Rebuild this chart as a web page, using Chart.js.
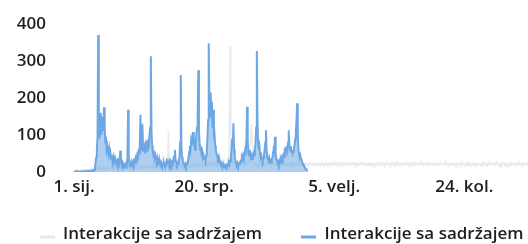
<!DOCTYPE html>
<html>
<head>
<meta charset="utf-8">
<script src="https://cdn.jsdelivr.net/npm/chart.js@4/dist/chart.umd.min.js"></script>
<style>
  html, body { margin: 0; padding: 0; background: #ffffff; }
  #wrap { width: 528px; height: 244px; position: relative; }
</style>
</head>
<body>
<div id="wrap"><canvas id="c" width="528" height="244"></canvas></div>
<script>
// ---- data ----
const seriesName = 'Interakcije sa sadržajem';
const tickDays = [0, 200, 400, 600];
const tickLabels = ['1. sij.', '20. srp.', '5. velj.', '24. kol.'];
const yTicks = [0, 100, 200, 300, 400];

const blueValues = [
  1,0,2,1,0,1,2,1,0,1,
  1,2,0,1,2,1,1,0,2,1,
  1,2,1,3,2,1,2,3,2,4,
  3,5,12,25,40,60,95,370,140,90,
  120,160,100,130,150,110,175,120,80,95,
  60,70,55,45,60,40,50,35,45,30,
  40,28,35,25,30,22,28,20,30,25,
  35,58,30,20,25,15,20,12,18,15,
  22,18,40,168,45,20,15,22,18,25,
  20,28,22,30,25,35,30,45,40,55,
  50,75,155,60,80,130,70,55,65,50,
  70,60,85,55,75,65,100,120,313,110,
  70,55,45,50,38,45,35,30,38,25,
  30,22,28,20,25,18,22,20,25,18,
  22,20,28,22,25,20,28,22,30,25,
  20,28,25,35,30,60,35,25,20,25,
  22,30,40,80,262,70,40,30,25,20,
  18,22,15,20,25,30,40,55,70,60,
  85,75,95,108,70,90,60,80,100,120,
  150,275,110,80,60,70,50,55,40,45,
  35,40,30,45,60,90,140,348,200,150,
  215,160,190,120,168,90,100,70,60,50,
  45,35,40,28,30,22,25,18,20,15,
  18,12,15,12,18,15,20,18,25,20,
  30,40,60,90,70,132,60,40,30,25,
  20,25,18,22,20,25,30,28,40,35,
  45,38,50,60,55,90,176,80,55,45,
  60,50,40,45,35,40,50,45,60,80,
  120,327,140,80,60,70,50,40,45,35,
  30,38,45,60,80,113,60,40,35,30,
  38,28,30,25,32,40,55,70,60,95,
  50,35,30,25,28,22,30,25,35,30,
  40,35,45,40,55,50,65,70,60,80,
  113,75,60,70,55,60,50,55,65,70,
  90,110,140,186,100,60,50,40,45,35,
  30,25,22,18,15,12,10,8,6,5
];

const greyValues = [
  3,2,4,3,5,2,3,4,2,3, 5,4,3,6,4,3,5,4,6,5, 4,6,5,7,5,4,6,8,5,7, 6,8,10,7,9,12,8,10,14,9,
  11,8,10,13,9,12,10,8,11,9, 12,10,14,11,9,13,10,12,15,11, 9,12,10,14,11,13,10,12,9,11,
  14,12,10,13,11,9,12,15,11,13, 10,12,14,11,13,16,12,10,14,12, 11,13,10,15,12,14,11,13,16,12,
  14,11,13,15,12,16,13,11,14,12, 15,13,17,12,14,16,13,18,15,12, 14,17,13,15,12,16,14,18,13,15,
  17,14,12,16,13,15,18,14,20,16, 22,18,25,30,45,113,40,25,20,18, 16,19,15,17,14,18,16,20,15,17,
  14,18,16,13,17,15,19,14,16,18, 15,13,17,14,16,19,15,18,14,16, 20,17,15,18,22,16,19,25,18,21,
  17,20,24,18,22,19,16,20,18,23,
  19,22,18,25,20,23,19,21,17,24, 20,18,22,19,25,21,18,23,20,17, 22,19,24,20,18,21,25,19,23,20,
  18,22,26,21,19,24,28,35,60,150, 340,90,45,30,25,22,19,24,20,23, 18,21,19,25,22,20,24,19,23,21,
  18,22,20,25,19,23,21,26,30,45, 60,80,110,132,70,45,30,25,22,20, 24,19,23,21,18,22,20,25,19,23,
  21,18,24,20,22,19,25,21,23,20,
  22,19,24,21,18,23,20,25,22,19, 21,24,20,23,18,22,25,21,19,24, 20,22,18,23,21,25,19,22,20,24,
  21,19,23,20,22,18,24,21,19,23, 20,22,25,21,19,23,20,24,22,18, 21,23,19,22,20,24,21,18,23,20,
  22,19,24,21,23,20,18,22,25,21, 19,23,20,22,24,21,19,23,20,22, 18,24,21,23,19,22,20,25,21,23,
  19,22,20,24,21,18,23,20,22,19,
  21,24,20,23,19,22,25,21,18,23, 20,22,24,19,21,23,20,25,22,19, 23,21,18,22,24,20,23,19,21,25,
  22,20,24,18,23,21,19,22,20,24, 21,23,19,25,22,20,18,23,21,24, 20,22,19,23,25,21,18,22,20,24,
  23,19,21,22,20,25,19,23,21,18, 24,22,20,23,19,21,25,22,18,23, 20,24,21,19,22,23,20,18,24,21,
  22,19,23,20,25,21,19,22,24,20,
  23,20,22,19,24,21,18,23,25,20, 22,19,21,24,20,23,18,22,21,25, 19,23,20,22,24,18,21,23,20,19,
  24,22,21,25,19,20,23,18,22,24, 21,20,23,19,25,22,18,21,24,20, 23,22,19,21,20,24,23,18,22,25,
  20,21,19,23,24,22,18,20,21,23, 25,19,22,24,20,21,18,23,22,19, 24,21,20,25,23,19,22,18,21,24,
  20,23,22,19,21,25,18,20,24,22,
  21,19,23,22,20,24,18,25,21,23, 19,22,20,24,21,18,23,25,20,22, 19,21,24,23,20,18,22,21,25,19,
  23,20,24,22,18,21,19,23,25,20, 22,24,21,19,23,20,18,22,25,21, 24,20,23,19,21,22,18,24,20,23,
  25,21,19,22,20,24,23,18,21,22, 20,25,19,23,21,24,22,18,20,23, 21,19,24,22,25,20,18,23,21,22,
  19,24,20,23,21,18,22,25,20,21
];

// ---- styles ----
const BLUE = '#6ea8e4';
const BLUE_FILL = 'rgba(110,168,228,0.55)';
const GREY = 'rgba(205,210,216,0.45)';
const GREY_LEGEND = '#e6e8eb';
const TEXT = '#1c1e21';
const FONT = { family: '"Open Sans", sans-serif', size: 17, weight: '600' };

const MARK_W = 50;
function marker(color) {
  const c = document.createElement('canvas');
  c.width = MARK_W; c.height = 14;
  const g = c.getContext('2d');
  g.fillStyle = color;
  g.fillRect(MARK_W - 15, 8, 15, 3);
  return c;
}

const layoutFix = {
  id: 'layoutFix',
  beforeUpdate(chart) {
    const lg = chart.legend;
    if (lg && !lg._patched) {
      const orig = lg.fit;
      lg.fit = function () { orig.call(this); this.height = 22; };
      lg._patched = true;
    }
  }
};

Chart.defaults.font.family = FONT.family;
Chart.defaults.color = TEXT;

new Chart(document.getElementById('c'), {
  type: 'line',
  data: {
    datasets: [
      {
        label: seriesName,
        data: blueValues.map((v, i) => ({ x: i, y: v })),
        borderColor: BLUE,
        backgroundColor: BLUE_FILL,
        fill: 'origin',
        borderWidth: 2,
        pointRadius: 0,
        tension: 0
      },
      {
        label: seriesName,
        data: greyValues.map((v, i) => ({ x: i, y: v })),
        borderColor: GREY,
        backgroundColor: GREY_LEGEND,
        fill: false,
        borderWidth: 1.4,
        pointRadius: 0,
        tension: 0
      }
    ]
  },
  options: {
    responsive: false,
    animation: false,
    events: [],
    layout: { padding: { top: 24, right: 0, left: 0, bottom: 0 } },
    scales: {
      x: {
        type: 'linear',
        min: -34,
        max: 698,
        grid: { display: false, drawTicks: false },
        border: { display: false },
        afterBuildTicks: s => { s.ticks = tickDays.map(v => ({ value: v })); },
        afterFit: s => { s.height = 50; },
        ticks: {
          autoSkip: false,
          maxRotation: 0,
          padding: 5,
          font: FONT,
          color: TEXT,
          callback: v => tickLabels[tickDays.indexOf(v)]
        }
      },
      y: {
        min: 0,
        max: 400,
        grid: { display: false, drawTicks: false },
        border: { display: false },
        afterBuildTicks: s => { s.ticks = yTicks.map(v => ({ value: v })); },
        afterFit: s => { s.width = 52; },
        ticks: { padding: 6, font: FONT, color: TEXT }
      }
    },
    plugins: {
      tooltip: { enabled: false },
      legend: {
        position: 'bottom',
        reverse: true,
        labels: {
          font: FONT,
          color: TEXT,
          padding: 4,
          usePointStyle: true,
          pointStyleWidth: MARK_W,
          generateLabels: chart => {
            const items = Chart.defaults.plugins.legend.labels.generateLabels(chart);
            items.forEach(it => {
              it.pointStyle = marker(it.datasetIndex === 0 ? BLUE : GREY_LEGEND);
              it.fontColor = TEXT;
            });
            return items;
          }
        }
      }
    }
  },
  plugins: [layoutFix]
});
</script>
</body>
</html>
